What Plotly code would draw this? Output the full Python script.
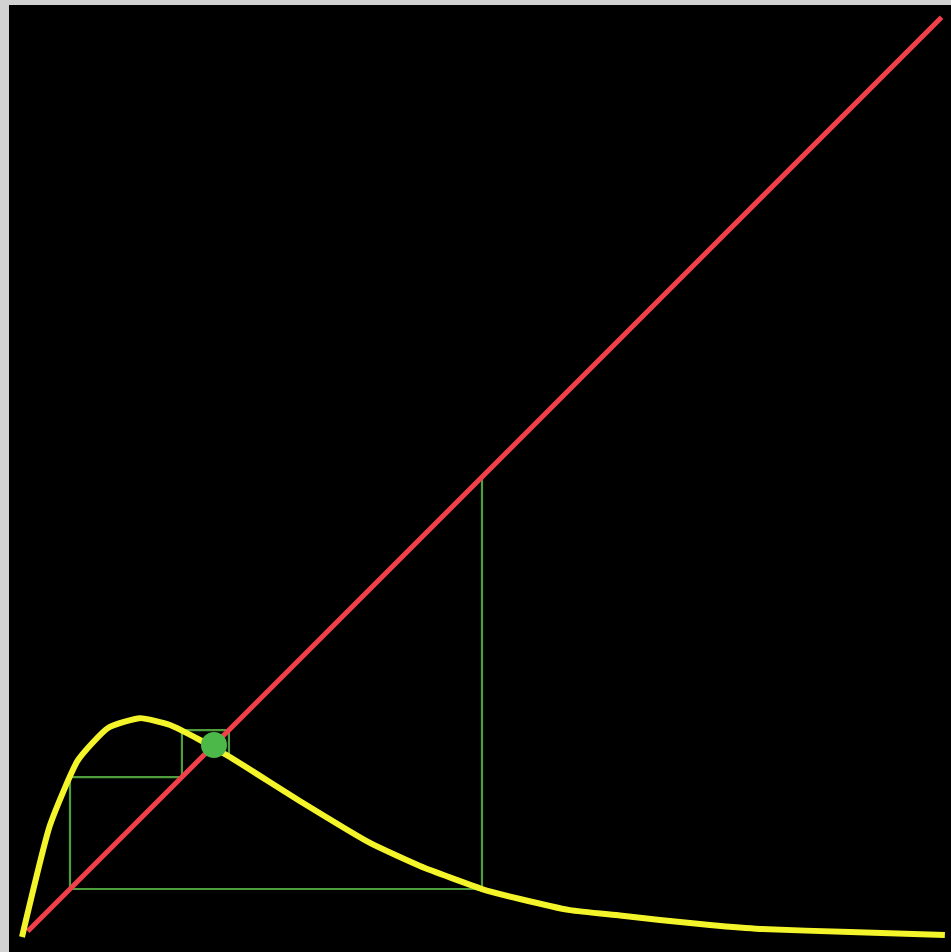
import plotly.graph_objects as go

# Map curve x_{n+1} = f(x_n), sampled points
curve_x = [0.0, 0.146, 0.292, 0.448, 0.615, 0.771, 0.927, 1.083, 1.464, 1.8125,
           2.073, 2.396, 2.594, 2.854, 3.115, 3.323, 3.583, 3.844, 4.3125, 4.807]
curve_y = [0.0, 0.583, 0.922, 1.089, 1.140, 1.104, 1.026, 0.9375, 0.698, 0.490,
           0.370, 0.250, 0.198, 0.140, 0.112, 0.0885, 0.0625, 0.042, 0.026, 0.0104]

# Identity line x_{n+1} = x_n
diag_x = [0.03, 4.79]
diag_y = [0.03, 4.79]

# Cobweb iteration path
cob_x = [2.396, 2.396, 0.250, 0.250, 0.833, 0.833, 1.078, 1.078]
cob_y = [2.396, 0.250, 0.250, 0.833, 0.833, 1.078, 1.078, 0.943]

# Fixed point
fixed_x = [1.0]
fixed_y = [1.0]

fig = go.Figure()
fig.add_trace(go.Scatter(x=cob_x, y=cob_y, mode="lines",
                         line=dict(color="#4f9e3e", width=2.2), hoverinfo="skip"))
fig.add_trace(go.Scatter(x=diag_x, y=diag_y, mode="lines",
                         line=dict(color="#f2404a", width=5), hoverinfo="skip"))
fig.add_trace(go.Scatter(x=curve_x, y=curve_y, mode="lines",
                         line=dict(color="#f4f42a", width=6, shape="spline",
                                   smoothing=0.5),
                         hoverinfo="skip"))
fig.add_trace(go.Scatter(x=fixed_x, y=fixed_y, mode="markers",
                         marker=dict(color="#4cb84a", size=26), hoverinfo="skip"))

fig.update_layout(
    width=951, height=952,
    margin=dict(l=9, r=0, t=5, b=0),
    paper_bgcolor="#d2d2d2",
    plot_bgcolor="#000000",
    showlegend=False,
    xaxis=dict(range=[-0.0677, 4.839], visible=False, fixedrange=True),
    yaxis=dict(range=[-0.078, 4.854], visible=False, fixedrange=True),
)

fig.write_html("out.html")
